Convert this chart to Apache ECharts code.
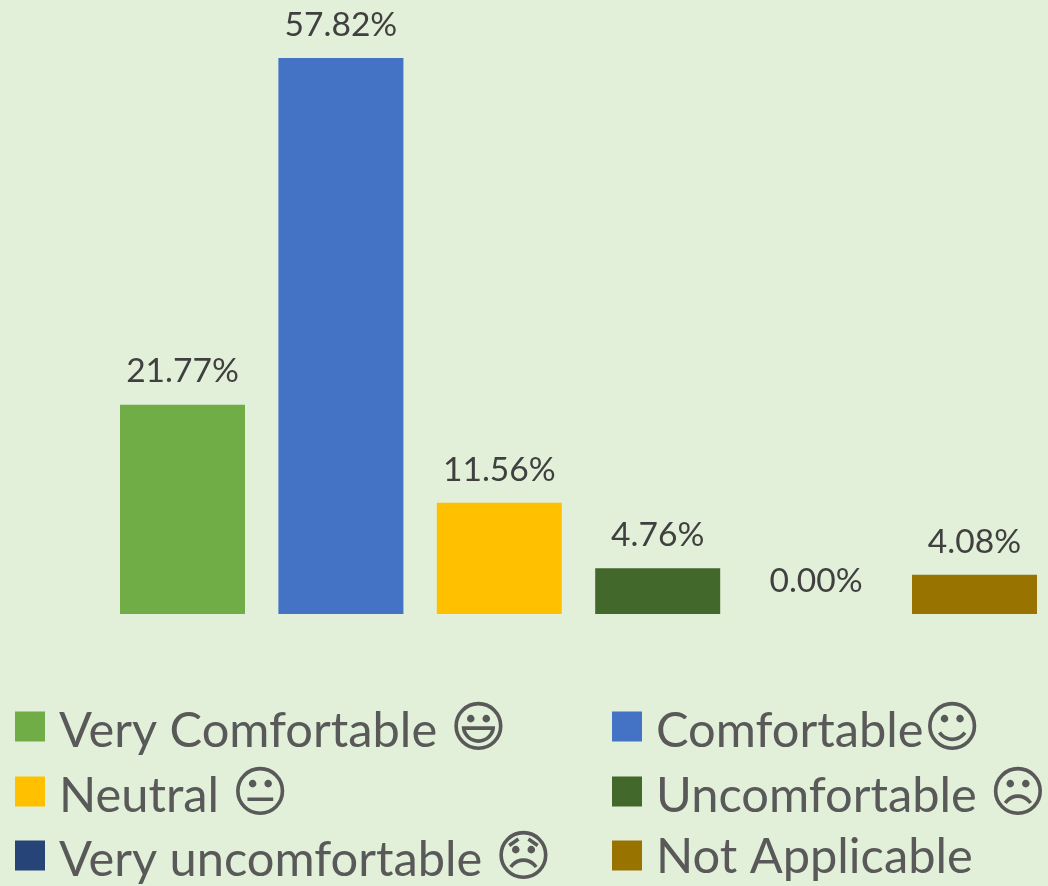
<!DOCTYPE html>
<html><head><meta charset="utf-8">
<style>html,body{margin:0;padding:0;background:#E2F0D9}#c{width:1048px;height:886px}</style>
<script src="https://cdn.jsdelivr.net/npm/echarts@6/dist/echarts.min.js"></script>
</head><body><div id="c"></div>
<script>
const categories = ["Very Comfortable", "Comfortable", "Neutral", "Uncomfortable", "Very uncomfortable", "Not Applicable"];
const values = [21.77, 57.82, 11.56, 4.76, 0.00, 4.08];
const spacers = [" ", "", " ", " ", " ", ""];
const faces = ["\u{1F603}", "\u263A\uFE0E", "\u{1F610}", "\u2639\uFE0E", "\u{1F61E}", ""];
const colors = ["#70AD47", "#4472C4", "#FFC000", "#43682B", "#264478", "#997300"];
const legendLeft = [10, 607, 10, 607, 10, 607];
const legendTop = [699, 699, 764, 764, 828, 828];
const textPad = [10, 10, 10, 10, 10, 4];

const names = categories.map((c, i) => c + spacers[i] + faces[i]);
const chart = echarts.init(document.getElementById('c'), null, {renderer: 'canvas'});
chart.setOption({
  animation: false,
  backgroundColor: '#E2F0D9',
  grid: {left: 103.3, width: 950.4, top: 37, height: 577, outerBoundsMode: 'none'},
  legend: names.map((n, i) => ({
    left: legendLeft[i], top: legendTop[i], data: [n],
    itemWidth: 30, itemHeight: 30, selectedMode: false, icon: 'rect',
    formatter: () => '{t|' + categories[i] + spacers[i] + '}' + (faces[i] ? '{e|' + faces[i] + '}' : ''),
    textStyle: {
      rich: {
        t: {fontFamily: 'Lato', fontSize: 48.8, color: '#595959', padding: [textPad[i], 0, 0, 9]},
        e: {fontFamily: 'DejaVu Sans', fontSize: 55, color: '#595959', padding: [10, 0, 0, 0]}
      }
    }
  })),
  xAxis: {type: 'category', data: categories, axisLine: {show: false}, axisTick: {show: false}, axisLabel: {show: false}},
  yAxis: {type: 'value', min: 0, max: 60, show: false, splitLine: {show: false}},
  series: names.map((n, i) => ({
    name: n, type: 'bar', stack: 'all', barWidth: 125,
    data: categories.map((_, j) => j === i ? values[i] : null),
    itemStyle: {color: colors[i]},
    label: {
      show: true, position: 'top', distance: 16,
      formatter: p => p.value.toFixed(2) + '%',
      fontFamily: 'Lato', fontSize: 33.6, color: '#404040'
    }
  }))
});
</script></body></html>
